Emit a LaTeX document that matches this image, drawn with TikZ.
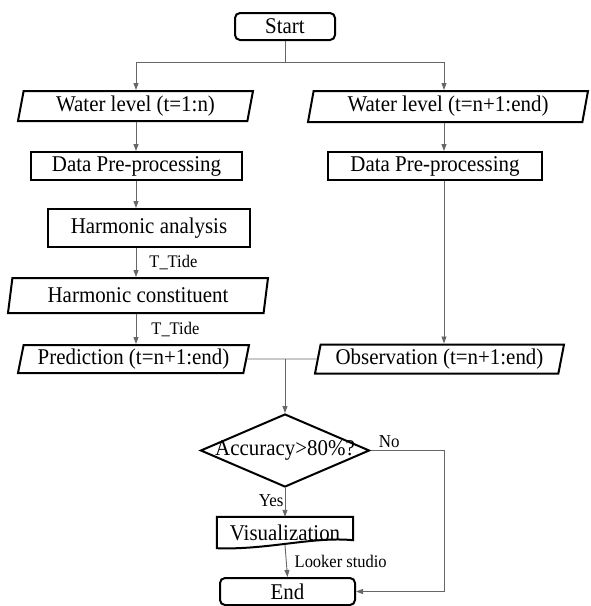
\documentclass[tikz,border=0pt]{standalone}
\usepackage{fontspec}
\setmainfont{Liberation Serif}[FakeStretch=0.93]
\usetikzlibrary{shapes,arrows.meta,positioning,calc}

\begin{document}
\begin{tikzpicture}[
    x=1pt, y=-1pt,
    every node/.style={font=\fontsize{22.5}{25}\selectfont, inner sep=2pt},
    box/.style={draw, line width=2pt},
    proc/.style={box, rectangle, minimum height=28pt},
    term/.style={box, rectangle, rounded corners=5pt, minimum width=100pt, minimum height=27pt},
    io/.style={box, trapezium, trapezium left angle=77, trapezium right angle=103, trapezium stretches body},
    line/.style={draw=black!60, line width=0.9pt},
    arr/.style={line, -{Triangle[length=7pt,width=5pt]}},
    lbl/.style={font=\fontsize{17.7}{20}\selectfont},
    yesno/.style={font=\fontsize{18.2}{21}\selectfont}
]
    \useasboundingbox (0,0) rectangle (591,606);
    \node[term] (start) at (285,26.5) {Start};
    \node[io, minimum width=235pt, minimum height=30pt] (wl1) at (135.5,106) {Water level (t=1:n)};
    \node[io, minimum width=280pt, minimum height=31pt] (wl2) at (448,106.5) {Water level (t=n+1:end)};
    \node[proc, minimum width=211pt] (dp1) at (136.5,166) {Data Pre-processing};
    \node[proc, minimum width=214pt] (dp2) at (435,166) {Data Pre-processing};
    \node[proc, minimum width=202pt, minimum height=38pt] (ha) at (149,228) {Harmonic analysis};
    \node[io, minimum width=260pt, minimum height=35pt] (hc) at (138,295.5) {Harmonic constituent};
    \node[io, minimum width=231pt, minimum height=28pt] (pred) at (133.5,359) {Prediction (t=n+1:end)};
    \node[io, minimum width=249pt, minimum height=29pt] (obs) at (439.5,359) {Observation (t=n+1:end)};
    \node[box, diamond, minimum width=169pt, minimum height=73pt, inner sep=0pt,
          label=center:{Accuracy>80\%?}] (acc) at (285,450.5) {};
    \node[minimum width=136pt, minimum height=31pt] (vis) at (285,532.5) {Visualization};
    \node[term, minimum width=135pt] (stop) at (287.5,591.5) {End};
    \draw[box] (vis.south west) -- (vis.north west) -- (vis.north east) -- ([yshift=8pt]vis.south east)
        .. controls ([shift={(-40pt,12pt)}]vis.south east) and ([shift={(50pt,-2pt)}]vis.south west) .. (vis.south west) -- cycle;

    \coordinate (lc) at (136,0);
    \coordinate (rc) at (444,0);
    \coordinate (split) at (285,62);
    \draw[line] (start) -- (split);
    \draw[arr] (split) -- (split -| lc) -- (wl1.north -| lc);
    \draw[arr] (split) -- (split -| rc) -- (wl2.north -| rc);
    \draw[arr] (wl1.south -| lc) -- (dp1.north -| lc);
    \draw[arr] (wl2.south -| rc) -- (dp2.north -| rc);
    \draw[arr] (dp1.south -| lc) -- (ha.north -| lc);
    \draw[arr] (ha.south -| lc) -- node[lbl, right=11pt]{T\_Tide} (hc.north -| lc);
    \draw[arr] (hc.south -| lc) -- node[lbl, right=13pt]{T\_Tide} (pred.north -| lc);
    \draw[arr] (dp2.south -| rc) -- (obs.north -| rc);
    \draw[line] (pred.east) -- (obs.west);
    \draw[arr] (acc.north |- pred.east) -- (acc.north);
    \draw[arr] (acc.south) -- node[yesno, left, inner sep=1pt, pos=0.45]{Yes} (vis.north);
    \draw[arr] ([yshift=3pt]vis.south) -- node[lbl, right=6pt]{Looker studio} (stop.north);
    \draw[arr] (acc.east) node[yesno, above right, xshift=6pt]{No} -- (acc.east -| rc) |- (stop.east);
\end{tikzpicture}
\end{document}
